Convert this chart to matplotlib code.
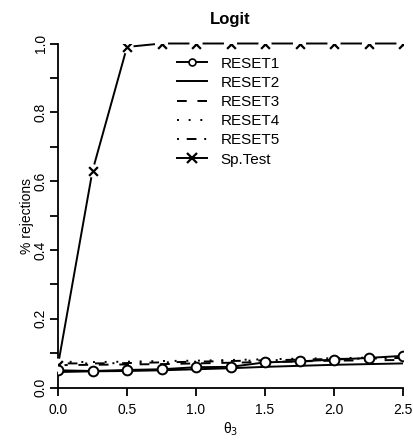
import matplotlib
matplotlib.use("Agg")
import matplotlib.pyplot as plt
from matplotlib.lines import Line2D

plt.rcParams['font.family'] = ['Liberation Sans', 'DejaVu Sans']

theta = [0.0, 0.25, 0.5, 0.75, 1.0, 1.25, 1.5, 1.75, 2.0, 2.25, 2.5]
reset1 = [0.050, 0.048, 0.051, 0.053, 0.059, 0.060, 0.073, 0.076, 0.081, 0.086, 0.092]
reset2 = [0.045, 0.047, 0.048, 0.050, 0.053, 0.056, 0.060, 0.063, 0.066, 0.068, 0.070]
reset3 = [0.065, 0.066, 0.067, 0.068, 0.070, 0.072, 0.074, 0.076, 0.078, 0.079, 0.080]
reset4 = [0.075, 0.074, 0.075, 0.077, 0.078, 0.080, 0.082, 0.084, 0.085, 0.087, 0.088]
reset5 = [0.070, 0.070, 0.071, 0.073, 0.075, 0.077, 0.079, 0.081, 0.083, 0.084, 0.086]
sptest = [0.065, 0.630, 0.990, 1.0, 1.0, 1.0, 1.0, 1.0, 1.0, 1.0, 1.0]
labels = ["RESET1", "RESET2", "RESET3", "RESET4", "RESET5", "Sp.Test"]

W, H = 414, 441
fig = plt.figure(figsize=(W/100, H/100), dpi=100)
x0, x1, ytop, ybot = 58, 403, 43.5, 387.5
ax = fig.add_axes([x0/W, 1-ybot/H, (x1-x0)/W, (ybot-ytop)/H])

lw = 1.4
ax.plot(theta, reset1, '-', color='black', lw=lw, marker='o', ms=7,
        mfc='white', mec='black', mew=1.4, zorder=5)
h2, = ax.plot(theta, reset2, '-', color='black', lw=lw)
h3, = ax.plot(theta, reset3, color='black', lw=lw, dashes=(5, 5.5))
h4, = ax.plot(theta, reset4, color='black', lw=lw, dashes=(1, 5))
h5, = ax.plot(theta, reset5, color='black', lw=lw, dashes=(1, 4, 5, 4))
ax.plot(theta, sptest, '-', color='black', lw=lw, zorder=2, clip_on=False)
ax.scatter(theta, sptest, s=90, c='white', edgecolors='none', zorder=3, clip_on=False)
ax.scatter(theta, sptest, s=40, marker='x', c='black', linewidths=1.6, zorder=4, clip_on=True)

leg_h6 = Line2D([], [], color='black', lw=lw, marker='x', ms=7, mew=1.6)
leg_h1 = Line2D([], [], color='black', lw=lw, marker='o', ms=5, mfc='white', mec='black', mew=1.2)
ax.legend([leg_h1, h2, h3, h4, h5, leg_h6], labels, frameon=False, loc='upper left',
          bbox_to_anchor=(0.345, 0.962), fontsize=11, handlelength=1.96,
          handletextpad=0.9, labelspacing=0.34, borderaxespad=0, borderpad=0)

ax.set_xlim(0, 2.5)
ax.set_ylim(0, 1)
ax.set_xticks([0, 0.5, 1.0, 1.5, 2.0, 2.5])
ax.set_xticklabels(["0.0", "0.5", "1.0", "1.5", "2.0", "2.5"])
ax.set_yticks([0, 0.2, 0.4, 0.6, 0.8, 1.0])
ax.set_yticklabels(["0.0", "0.2", "0.4", "0.6", "0.8", "1.0"], rotation=90, va='center')
ax.set_yticks([0.1, 0.3, 0.5, 0.7, 0.9], minor=True)
ax.tick_params(axis='both', which='both', direction='out', length=5.5, width=1.3,
               labelsize=10, color='black')
ax.tick_params(axis='y', pad=2)
ax.tick_params(axis='x', pad=6)
for s in ['top', 'right']:
    ax.spines[s].set_visible(False)
for s in ['left', 'bottom']:
    ax.spines[s].set_linewidth(1.3)

ax.set_title("Logit", fontsize=12, fontweight='bold', pad=14)
ax.set_xlabel(r"θ$_3$", fontsize=10, labelpad=2)
ax.set_ylabel("% rejections", fontsize=10, labelpad=0)

fig.savefig("out.png", dpi=100)
